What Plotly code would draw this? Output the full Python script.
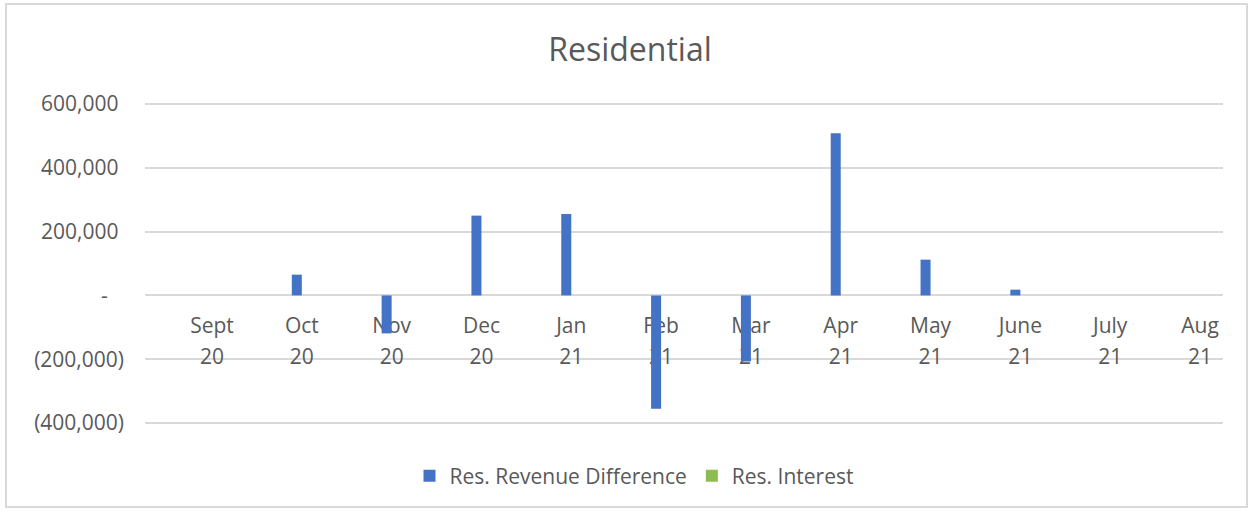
import plotly.graph_objects as go

# ---- data ----
categories = ["Sept 20", "Oct 20", "Nov 20", "Dec 20", "Jan 21", "Feb 21",
              "Mar 21", "Apr 21", "May 21", "June 21", "July 21", "Aug 21"]
month_labels = ["Sept", "Oct", "Nov", "Dec", "Jan", "Feb", "Mar", "Apr", "May", "June", "July", "Aug"]
year_labels = ["20", "20", "20", "20", "21", "21", "21", "21", "21", "21", "21", "21"]
revenue_difference = [0, 65000, -119000, 250000, 255000, -355000, -207000, 508000, 112000, 18000, 0, 0]
interest = [0, 0, 0, 0, 0, 0, 0, 0, 0, 0, 0, 0]
y_tick_vals = [600000, 400000, 200000, 0, -200000, -400000]
y_tick_text = ["600,000\u00a0", "400,000\u00a0", "200,000\u00a0", "-\u00a0\u00a0\u00a0", "(200,000)", "(400,000)"]

FONT = "Open Sans"
GREY = "#595959"
BLUE = "#4472C4"
GREEN = "#8FBC4F"

W, H = 1251, 512
L, R, T, B = 145, 28, 102, 87
PW, PH = W - L - R, H - T - B

fig = go.Figure()
fig.add_trace(go.Bar(x=categories, y=revenue_difference, name="Res. Revenue Difference",
                     marker=dict(color=BLUE, line=dict(width=0))))
fig.add_trace(go.Bar(x=categories, y=interest, name="Res. Interest",
                     marker=dict(color=GREEN, line=dict(width=0))))
# carrier for the second row of category labels (years)
fig.add_trace(go.Scatter(x=categories, y=[None] * len(categories), xaxis="x2", mode="markers",
                         showlegend=False, hoverinfo="skip"))

xr = [-0.746, 11.256]
yr = [-406000, 606000]
zero_pos = (0 - yr[0]) / (yr[1] - yr[0])

fig.update_layout(
    width=W, height=H, autosize=False,
    margin=dict(l=L, r=R, t=T, b=B, autoexpand=False),
    paper_bgcolor="white", plot_bgcolor="white",
    font=dict(family=FONT, size=21, color=GREY),
    title=dict(text="Residential", x=630 / W, xref="container", y=1 - 50 / H, yref="container",
               xanchor="center", yanchor="middle", font=dict(family=FONT, size=32, color=GREY)),
    barmode="group", bargap=0.777, bargroupgap=0,
    showlegend=True,
    legend=dict(orientation="h", x=(634 - L) / PW, xanchor="center",
                y=(H - B - 476) / PH, yanchor="middle", font=dict(family=FONT, size=21, color=GREY),
                itemsizing="constant"),
    xaxis=dict(type="category", range=xr, tickvals=categories, ticktext=month_labels,
               showgrid=False, zeroline=False, showline=False, ticks="", tickangle=0,
               anchor="free", position=zero_pos, ticklabelstandoff=16, layer="below traces",
               tickfont=dict(family=FONT, size=21, color=GREY)),
    xaxis2=dict(type="category", range=xr, tickvals=categories, ticktext=year_labels,
                overlaying="x", side="bottom", showgrid=False, zeroline=False, showline=False,
                ticks="", tickangle=0, anchor="free", position=zero_pos, ticklabelstandoff=47,
                layer="below traces", tickfont=dict(family=FONT, size=21, color=GREY)),
    yaxis=dict(range=yr, tickvals=y_tick_vals, ticktext=y_tick_text,
               showgrid=True, gridcolor="#D9D9D9", gridwidth=1.5,
               zeroline=True, zerolinecolor="#D9D9D9", zerolinewidth=1.5,
               showline=False, ticks="", ticklabelstandoff=20,
               tickfont=dict(family=FONT, size=21, color=GREY)),
    shapes=[dict(type="rect", xref="paper", yref="paper",
                 x0=(6 - L) / PW, x1=(1247 - L) / PW,
                 y0=(H - B - 507) / PH, y1=(H - B - 4) / PH,
                 line=dict(color="#D9D9D9", width=2), fillcolor="rgba(0,0,0,0)", layer="below")],
)

fig.write_html("out.html", config={"displayModeBar": False},
               post_script="document.body.style.margin='0';")
